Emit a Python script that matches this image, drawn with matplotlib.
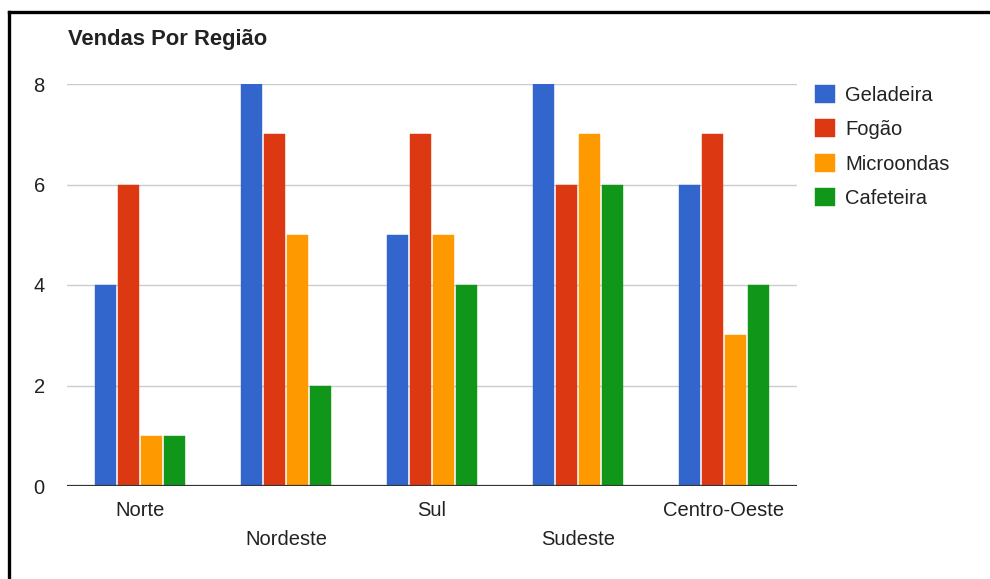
import matplotlib.pyplot as plt
import numpy as np
from matplotlib.lines import Line2D

plt.rcParams['font.family'] = ['Liberation Sans', 'DejaVu Sans']

regioes = ['Norte', 'Nordeste', 'Sul', 'Sudeste', 'Centro-Oeste']
produtos = ['Geladeira', 'Fogão', 'Microondas', 'Cafeteira']
geladeira = [4, 8, 5, 8, 6]
fogao = [6, 7, 7, 6, 7]
microondas = [1, 5, 5, 7, 3]
cafeteira = [1, 2, 4, 6, 4]
cores = ['#3366cc', '#dc3912', '#ff9900', '#109618']
yticks = [0, 2, 4, 6, 8]

W, H = 990, 579
fig = plt.figure(figsize=(W / 100, H / 100), dpi=100)
ax = fig.add_axes([67 / W, 93 / H, 730 / W, 402 / H])

x = np.arange(len(regioes))
passo = 0.1575
largura = 0.147
for i, (vals, nome) in enumerate(zip([geladeira, fogao, microondas, cafeteira], produtos)):
    ax.bar(x + (i - 1.5) * passo, vals, largura, color=cores[i], label=nome,
           edgecolor=cores[i], linewidth=0.3, zorder=3)

ax.set_xlim(-0.5, 4.5)
ax.set_ylim(0, 8)
ax.set_yticks(yticks)
ax.set_yticklabels([str(v) for v in yticks])
ax.yaxis.grid(True, color='#cccccc', linewidth=1, zorder=0)
ax.axhline(0, color='#333333', linewidth=1.6, zorder=4)
for s in ax.spines.values():
    s.set_visible(False)
ax.tick_params(axis='both', length=0, labelsize=14.5, colors='#222222')
ax.tick_params(axis='y', pad=16)

ax.set_xticks(x)
ax.set_xticklabels(regioes)
for i, t in enumerate(ax.xaxis.get_major_ticks()):
    t.set_pad(11 if i % 2 == 0 else 31.5)

fig.text(68 / W, 1 - 40 / H, 'Vendas Por Região', fontsize=15.8, fontweight='bold',
         color='#222222', va='center', ha='left')

ax.legend(loc='upper left', bbox_to_anchor=(815 / W, 1 - 85 / H), bbox_transform=fig.transFigure,
          frameon=False, fontsize=14.5, handlelength=1.0, handleheight=1.0,
          handletextpad=0.5, labelspacing=0.72, borderpad=0, borderaxespad=0,
          labelcolor='#222222')

# moldura (só topo e esquerda)
fig.add_artist(Line2D([9 / W, 1], [1 - 12 / H, 1 - 12 / H], color='black', linewidth=2.4,
                      transform=fig.transFigure))
fig.add_artist(Line2D([9 / W, 9 / W], [0, 1 - 12 / H], color='black', linewidth=2.4,
                      transform=fig.transFigure))

fig.savefig('out.png', dpi=100)
